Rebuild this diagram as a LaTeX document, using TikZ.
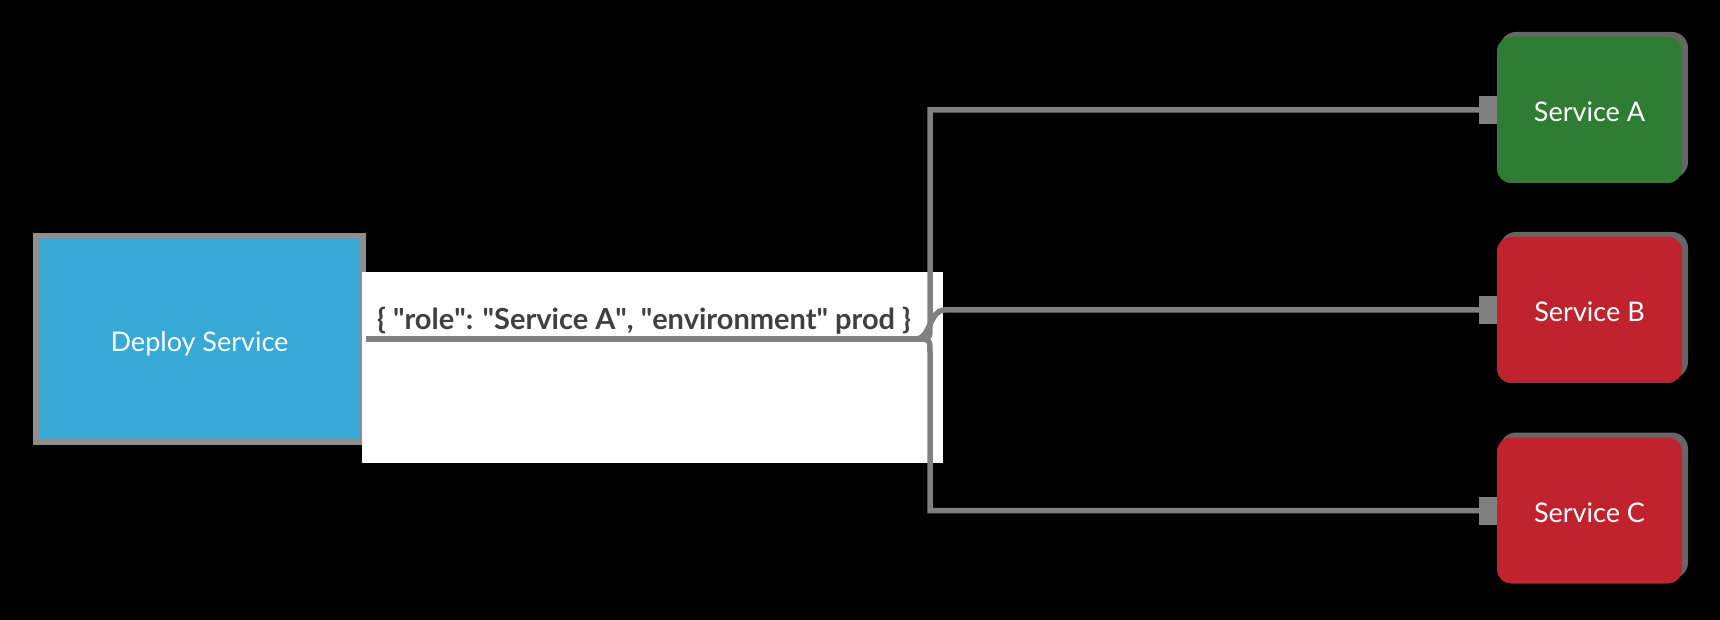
\documentclass[tikz,border=0pt]{standalone}
\usepackage{fontspec}
\setmainfont{Lato}
\usetikzlibrary{arrows.meta, positioning}

\definecolor{deployblue}{HTML}{36A9D6}
\definecolor{deploygray}{HTML}{8E8E8E}
\definecolor{svcgreen}{HTML}{2E7D32}
\definecolor{svcred}{HTML}{C0232D}
\definecolor{shadowgray}{HTML}{666666}
\definecolor{linkgray}{HTML}{808080}
\definecolor{labelgray}{HTML}{404040}

\newcommand{\q}{\textquotedbl}

\begin{document}
\begin{tikzpicture}[
    x=0.5pt, y=-0.5pt,
    deploy node/.style={rectangle, draw=deploygray, line width=3pt, fill=deployblue,
        minimum width=163.5pt, minimum height=103pt, text=white,
        text height=12pt, text depth=0pt, font=\fontsize{13.5}{16}\selectfont},
    service node/.style={rectangle, rounded corners=7pt, minimum width=92.5pt,
        minimum height=73pt, text=white, text height=12pt, text depth=0pt,
        font=\fontsize{13.5}{16}\selectfont},
    shadow box/.style={rectangle, rounded corners=8pt, fill=shadowgray,
        minimum width=94pt, minimum height=73pt},
    payload text/.style={text=labelgray, font=\fontsize{14.5}{17}\bfseries},
    link/.style={draw=linkgray, line width=2.75pt, -{Rectangle[length=9pt, width=14pt]}}
]
    % Canvas
    \useasboundingbox[fill=black] (0,0) rectangle (1720,620);

    % Source
    \node[deploy node] (deploy) at (199.5,339) {Deploy Service};
    \fill[white] (362,272) rectangle (943,463);

    % Targets
    \node[shadow box] at (1594,105) {};
    \node[service node, fill=svcgreen] (svcA) at (1589.5,110) {Service A};
    \node[shadow box] at (1594,305) {};
    \node[service node, fill=svcred] (svcB) at (1589.5,310) {Service B};
    \node[shadow box] at (1594,505.5) {};
    \node[service node, fill=svcred] (svcC) at (1589.5,510.5) {Service C};

    % Fan-out
    \coordinate (split) at (930,339);
    \draw[link] (deploy.east) -- ([xshift=-7pt]split) .. controls (split) .. ([yshift=7pt]split)
        -- (split |- svcA.west) -- (svcA.west);
    \draw[link] (deploy.east) -- ([xshift=-7pt]split) .. controls (split) .. ([yshift=-7pt]split)
        -- (split |- svcC.west) -- (svcC.west);
    \draw[link] (deploy.east) -- ([xshift=-7pt]split)
        .. controls (split) and (split |- svcB.west) .. ([xshift=7pt]split |- svcB.west)
        -- (svcB.west);

    \node[payload text] (payload) at (644,321) {\{ \q role\q: \q Service A\q, \q environment\q{} prod \}};
\end{tikzpicture}
\end{document}
